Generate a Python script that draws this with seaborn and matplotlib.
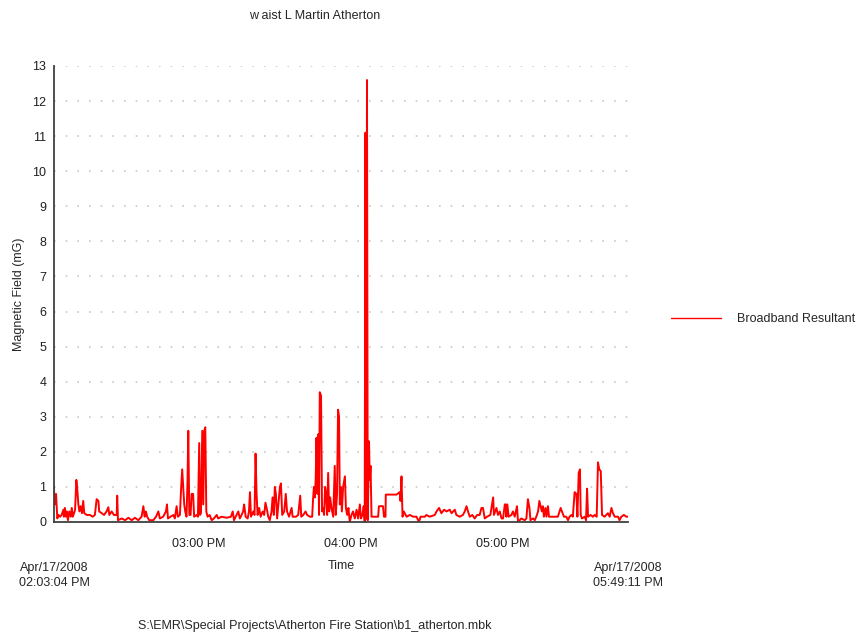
import pandas as pd
import seaborn as sns
import matplotlib.pyplot as plt
import matplotlib.dates as mdates

# minutes after the start of the log (02:03:04 PM) and field readings in mG
minutes = [0.0, 0.1, 0.4, 0.8, 1.3, 1.8, 2.4, 3.0, 3.7, 3.9, 4.3, 4.7, 5.0, 5.5, 6.0, 6.6, 7.0, 7.4, 7.9, 8.3,
           8.8, 9.2, 9.6, 10.0, 10.5, 11.0, 11.5, 11.9, 12.9, 14.2, 15.2, 16.1, 16.8, 17.5, 17.8, 18.8, 19.7,
           20.7, 21.4, 21.8, 22.7, 23.6, 24.7, 24.9, 25.2, 26.7, 28.0, 29.3, 30.6, 31.9, 33.2, 34.5, 35.2,
           35.7, 36.2, 36.7, 37.5, 39.1, 40.2, 41.1, 41.7, 43.0, 44.1, 44.5, 44.9, 45.9, 47.0, 47.6, 48.3,
           48.8, 49.6, 50.1, 50.5, 50.9, 51.3, 51.7, 52.2, 52.6, 52.9, 53.3, 53.8, 54.2, 54.8, 55.2, 56.2,
           56.7, 57.2, 57.5, 57.9, 58.4, 58.8, 59.2, 59.6, 60.0, 60.5, 61.3, 62.1, 63.0, 64.1, 64.7, 66.0,
           68.0, 69.7, 70.4, 70.9, 71.9, 72.6, 73.2, 73.9, 74.5, 74.9, 75.5, 76.3, 76.8, 77.2, 77.6, 78.5,
           79.0, 79.4, 79.8, 80.2, 80.8, 81.4, 82.2, 82.8, 83.3, 83.9, 84.4, 85.0, 85.7, 86.1, 86.6, 87.0,
           87.4, 87.9, 88.5, 89.0, 89.4, 89.9, 90.7, 91.3, 91.8, 92.6, 93.6, 94.0, 95.3, 96.2, 97.0, 97.4,
           98.2, 99.1, 99.7, 100.8, 101.7, 102.1, 102.4, 102.8, 103.1, 103.4, 103.8, 104.1, 104.4, 104.7,
           105.2, 105.6, 106.0, 106.4, 106.8, 107.2, 107.6, 108.0, 108.4, 108.8, 109.3, 110.0, 110.6, 111.0,
           111.5, 111.9, 112.3, 112.6, 113.0, 113.4, 113.9, 114.6, 115.0, 115.5, 116.0, 116.5, 117.2, 117.8,
           118.5, 119.2, 119.8, 120.5, 120.9, 121.5, 122.0, 122.4, 122.7, 123.0, 123.3, 123.6, 124.1, 124.4,
           124.7, 125.1, 126.4, 127.7, 128.0, 129.0, 129.6, 130.0, 130.6, 130.7, 133.0, 134.9, 136.2, 136.5,
           136.9, 137.3, 137.8, 138.9, 140.2, 141.5, 142.8, 143.8, 144.4, 146.1, 146.7, 148.0, 150.0, 150.7,
           151.7, 152.6, 153.7, 154.6, 155.9, 156.6, 157.9, 158.5, 159.8, 161.1, 161.8, 162.5, 163.1, 163.8,
           164.8, 165.7, 166.7, 167.7, 168.4, 169.0, 169.7, 170.6, 171.9, 173.0, 173.3, 174.3, 174.9, 175.6,
           176.3, 176.9, 177.6, 178.0, 178.2, 178.6, 179.1, 180.2, 180.8, 181.5, 182.4, 182.8, 184.1, 185.4,
           186.1, 186.7, 187.3, 187.7, 188.7, 189.4, 190.0, 190.7, 191.2, 191.7, 192.2, 192.6, 193.0, 193.6,
           194.0, 194.6, 195.0, 196.6, 198.5, 199.6, 200.1, 200.9, 201.8, 202.5, 203.1, 203.8, 204.4, 205.1,
           205.8, 206.2, 206.7, 207.2, 207.5, 208.0, 209.1, 209.6, 210.0, 210.4, 211.4, 212.3, 213.0, 213.8,
           214.3, 214.8, 215.4, 215.9, 216.9, 218.2, 218.9, 219.6, 220.2, 220.9, 222.2, 222.8, 223.5, 224.5,
           225.5, 226.1]
field = [1.0, 0.6, 0.5, 0.8, 0.1, 0.2, 0.15, 0.2, 0.35, 0.15, 0.4, 0.15, 0.3, 0.05, 0.3, 0.15, 0.4, 0.15, 0.25, 0.35,
         1.2, 0.9, 0.5, 0.3, 0.45, 0.25, 0.6, 0.25, 0.2, 0.2, 0.15, 0.2, 0.65, 0.6, 0.3, 0.25, 0.2,
         0.3, 0.42, 0.2, 0.3, 0.2, 0.2, 0.75, 0.05, 0.1, 0.05, 0.12, 0.05, 0.12, 0.05, 0.15, 0.45,
         0.15, 0.3, 0.15, 0.05, 0.05, 0.15, 0.3, 0.1, 0.15, 0.3, 0.5, 0.1, 0.15, 0.2, 0.1, 0.45,
         0.15, 0.2, 1.0, 1.5, 1.0, 0.5, 0.3, 0.15, 1.2, 2.6, 0.2, 0.2, 0.8, 0.8, 0.15, 0.2,
         0.15, 2.25, 0.2, 0.25, 2.6, 0.5, 2.6, 2.7, 0.3, 0.15, 0.2, 0.05, 0.1, 0.2, 0.1, 0.15,
         0.12, 0.15, 0.3, 0.05, 0.2, 0.3, 0.1, 0.2, 0.3, 0.5, 0.15, 0.1, 0.3, 0.85, 0.15, 0.3,
         0.2, 1.95, 0.8, 0.2, 0.4, 0.15, 0.3, 0.2, 0.55, 0.35, 0.15, 0.05, 0.3, 0.7, 0.2, 1.0,
         0.8, 0.1, 0.6, 1.0, 1.1, 0.2, 0.3, 0.8, 0.3, 0.15, 0.4, 0.15, 0.15, 0.2, 0.75, 0.15,
         0.2, 0.3, 0.2, 0.15, 0.15, 0.7, 1.0, 0.7, 1.25, 2.4, 0.8, 2.5, 0.2, 3.7,
         3.6, 0.3, 0.4, 0.2, 1.0, 0.8, 0.2, 1.4, 0.3, 0.7, 0.4, 0.15, 1.6, 0.2,
         0.8, 3.2, 3.0, 0.5, 1.0, 0.3, 1.0, 1.3, 0.4, 0.2, 0.4, 0.0, 0.2, 0.3,
         0.1, 0.35, 0.1, 0.5, 0.1, 0.2, 0.45, 0.0, 11.1, 0.1, 12.6, 0.05, 2.3, 1.2,
         1.6, 0.15, 0.15, 0.15, 0.45, 0.45, 0.45, 0.15, 0.15, 0.78, 0.78, 0.78, 0.85, 0.6,
         1.3, 0.15, 0.3, 0.15, 0.2, 0.15, 0.15, 0.0, 0.15, 0.15, 0.2, 0.15, 0.2, 0.3,
         0.4, 0.25, 0.35, 0.3, 0.35, 0.25, 0.35, 0.2, 0.15, 0.2, 0.3, 0.45, 0.3, 0.15,
         0.2, 0.1, 0.2, 0.2, 0.4, 0.4, 0.1, 0.15, 0.2, 0.7, 0.2, 0.4, 0.2, 0.3,
         0.1, 0.1, 0.5, 0.5, 0.15, 0.5, 0.15, 0.2, 0.3, 0.15, 0.45, 0.0, 0.1, 0.05,
         0.1, 0.65, 0.4, 0.05, 0.1, 0.05, 0.15, 0.3, 0.6, 0.45, 0.3, 0.45, 0.15, 0.4,
         0.15, 0.45, 0.15, 0.15, 0.15, 0.4, 0.3, 0.15, 0.15, 0.05, 0.15, 0.2, 0.15, 0.85,
         0.8, 0.15, 1.4, 1.5, 0.2, 0.1, 0.15, 0.05, 0.95, 0.15, 0.2, 0.15, 0.2, 0.15,
         1.7, 1.5, 1.45, 0.2, 0.15, 0.25, 0.15, 0.4, 0.25, 0.15, 0.15, 0.05, 0.15, 0.2,
         0.15, 0.15]

start = pd.Timestamp("2008-04-17 14:03:04")
end = pd.Timestamp("2008-04-17 17:49:11")
df = pd.DataFrame({"time": start + pd.to_timedelta(minutes, unit="min"), "field": field})

sns.set_style("white")
plt.rcParams['font.family'] = ['Liberation Sans', 'DejaVu Sans']
plt.rcParams['font.size'] = 9

fig = plt.figure(figsize=(8.6, 6.34), dpi=100)
ax = fig.add_axes([0.0628, 0.1767, 0.6674, 0.7192])

sns.lineplot(data=df, x="time", y="field", color="#ff0000", linewidth=1.4,
             estimator=None, label="Broadband Resultant", ax=ax)

ax.set_xlim(start, end)
ax.set_ylim(0, 13)
ax.set_yticks(range(0, 14))
ax.set_yticks([i + 0.5 for i in range(13)], minor=True)
ax.xaxis.set_major_locator(mdates.HourLocator())
ax.xaxis.set_major_formatter(mdates.DateFormatter("%I:%M %p"))

for y in range(1, 14):
    ax.axhline(y, color="#c8c8c8", linestyle=(0, (1, 6)), linewidth=1.2, zorder=0)

sns.despine(ax=ax)
for side in ["left", "bottom"]:
    ax.spines[side].set_color("#404040")
    ax.spines[side].set_linewidth(1.3)
ax.tick_params(axis="both", which="both", direction="inout", length=7, width=1.2,
               color="#404040", labelsize=9, labelcolor="#202020")
ax.tick_params(axis="y", pad=2)
ax.tick_params(axis="x", pad=8)

ax.set_xlabel("Time", fontsize=9)
ax.xaxis.set_label_coords(0.5, -0.083)
ax.set_ylabel("Magnetic Field (mG)", fontsize=9)
ax.yaxis.set_label_coords(-0.05, 0.5)

ax.text(0, -0.117, "Apr/17/2008\n02:03:04 PM", transform=ax.transAxes,
        ha="center", va="center", fontsize=9, linespacing=1.3)
ax.text(1, -0.117, "Apr/17/2008\n05:49:11 PM", transform=ax.transAxes,
        ha="center", va="center", fontsize=9, linespacing=1.3)

fig.text(315 / 860, 1 - 16 / 634, "w aist L Martin Atherton", ha="center", va="center", fontsize=9)
fig.text(315 / 860, 1 - 626 / 634, r"S:\EMR\Special Projects\Atherton Fire Station\b1_atherton.mbk",
         ha="center", va="center", fontsize=9)

ax.legend(loc="center left", bbox_to_anchor=(1.075, 0.445), frameon=False, handlelength=4.0,
          handletextpad=1.3, borderpad=0, borderaxespad=0, fontsize=9)
for line in ax.get_legend().get_lines():
    line.set_linewidth(1.0)

fig.savefig("out.png", dpi=100, facecolor="white")
